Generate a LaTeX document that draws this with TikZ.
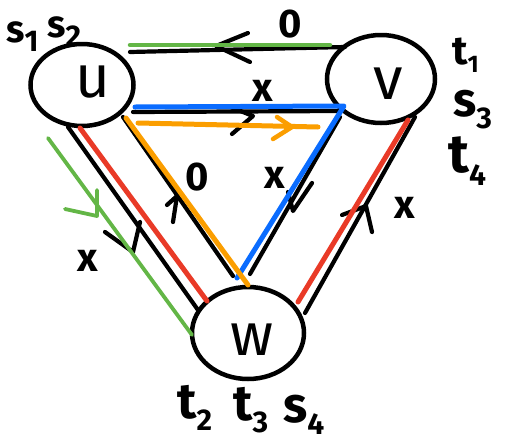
\documentclass[tikz,border=0pt]{standalone}
\usepackage{fontspec}
\setmainfont{Fira Sans}
\usetikzlibrary{shapes.geometric}
\definecolor{cgreen}{HTML}{63B646}
\definecolor{cred}{HTML}{E93A27}
\definecolor{cblue}{HTML}{0A6CFF}
\definecolor{corange}{HTML}{FB9E00}
\newcommand\lsub[1]{\raisebox{-0.25em}{\fontsize{30}{30}\selectfont #1}}
\tikzset{
  vert/.style={ellipse,draw,line width=4.5pt,inner sep=0pt},
  edg/.style={line width=4.2pt,line cap=round,line join=round},
  cedg/.style={line width=5pt,line cap=round,line join=round},
  chev/.style={line width=4.2pt,line cap=round,line join=round},
  big/.style={font=\fontsize{60}{60}\selectfont,inner sep=0pt},
  elab/.style={font=\fontsize{40}{40}\selectfont\bfseries,inner sep=0pt},
  tlab/.style={inner sep=0pt,anchor=base west},
}
\begin{document}
\begin{tikzpicture}[x=1pt,y=-1pt]
\useasboundingbox (0,0) rectangle (506,445);
% vertices
\node[vert,minimum width=103pt,minimum height=82pt] (u) at (82,85) {};
\node[vert,minimum width=108pt,minimum height=88pt] (v) at (381,79) {};
\node[vert,minimum width=112pt,minimum height=92pt] (w) at (248,333) {};
\node[big] (ut) at (93,82) {u};
\node[big] (vt) at (388,84) {v};
\node[big] (wt) at (252,340) {w};
% connector end points
\coordinate (uTop) at (130,52);  \coordinate (vTop) at (345,47);
\coordinate (uMid) at (133,112); \coordinate (vMid) at (340,111);
\coordinate (uIn)  at (123,117); \coordinate (wInL) at (233,276);
\coordinate (vIn)  at (340,117); \coordinate (wInR) at (250,274);
\coordinate (uOut) at (68,127);  \coordinate (wOutL) at (198,310);
\coordinate (vOut) at (415,117); \coordinate (wOutR) at (305,313);
% coloured path points
\coordinate (g1) at (130,45); \coordinate (g2) at (330,45);
\coordinate (g3) at (48,138); \coordinate (g4) at (192,335);
\coordinate (b1) at (135,107); \coordinate (b2) at (344,106); \coordinate (b3) at (237,278);
\coordinate (o1) at (138,123); \coordinate (o2) at (318,127);
\coordinate (o3) at (126,118); \coordinate (o4) at (248,285);
\coordinate (r1) at (80,128); \coordinate (r2) at (207,301);
\coordinate (r3) at (408,120); \coordinate (r4) at (298,302);
% black edges
\draw[edg] (vTop) -- (uTop);
\draw[edg] (uMid) -- (vMid);
\draw[edg] (wInL) -- (uIn);
\draw[edg] (vIn) -- (wInR);
\draw[edg] (uOut) -- (wOutL);
\draw[edg] (wOutR) -- (vOut);
% hand-drawn arrowheads (open chevrons)
\draw[chev] (248,33) -- (216,46) -- (250,62);
\draw[chev] (228,106) -- (253,116) -- (232,134);
\draw[chev] (167,205) -- (177,196) -- (173,222);
\draw[chev] (288,192) -- (293,211) -- (312,183);
\draw[chev] (105,232) -- (133,252) -- (140,222);
\draw[chev] (342,215) -- (366,206) -- (372,232);
% coloured paths
\draw[cedg,cgreen,line width=4.5pt] (g1) -- (g2);
\draw[cedg,cgreen,line width=3.8pt] (g3) -- (g4);
\draw[chev,cgreen,line width=3.8pt] (65,209) -- (97,216) -- (97,190);
\draw[cedg,cblue] (b1) -- (b2) -- (b3);
\draw[cedg,corange] (o1) -- (o2);
\draw[chev,corange,line width=4.5pt] (277,117) -- (292,127) -- (273,139);
\draw[cedg,corange] (o3) -- (o4);
\draw[cedg,cred] (r1) -- (r2);
\draw[cedg,cred] (r3) -- (r4);
% edge labels
\node[elab] (l0a) at (290,24) {0};
\node[elab] (lxa) at (263,91) {x};
\node[elab] (l0b) at (197,177) {0};
\node[elab] (lxb) at (275,178) {x};
\node[elab] (lxc) at (88,261) {x};
\node[elab] (lxd) at (405,208) {x};
% terminal labels
\node[tlab,font=\fontsize{38}{38}\selectfont\bfseries] (s1) at (6,42) {s\lsub{1}};
\node[tlab,font=\fontsize{38}{38}\selectfont\bfseries] (s2) at (47,37) {s\lsub{2}};
\node[tlab,font=\fontsize{40}{40}\selectfont\bfseries] (t1) at (452,64) {t\raisebox{-0.2em}{\fontsize{24}{24}\selectfont 1}};
\node[tlab,font=\fontsize{48}{48}\selectfont\bfseries] (s3) at (453,116) {s\lsub{3}};
\node[tlab,font=\fontsize{54}{54}\selectfont\bfseries] (t4) at (448,172) {t\lsub{4}};
\node[tlab,font=\fontsize{50}{50}\selectfont\bfseries] (t2) at (177,418) {t\lsub{2}};
\node[tlab,font=\fontsize{50}{50}\selectfont\bfseries] (t3) at (233,420) {t\lsub{3}};
\node[tlab,font=\fontsize{50}{50}\selectfont\bfseries] (s4) at (283,422) {s\lsub{4}};
\end{tikzpicture}
\end{document}
